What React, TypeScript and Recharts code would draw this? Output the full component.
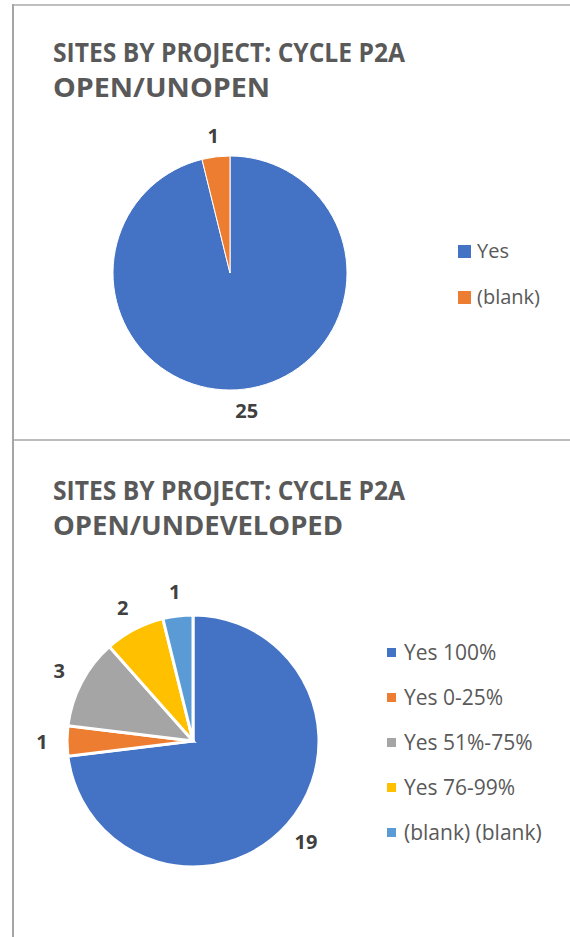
import React from 'react';
import { PieChart, Pie, Cell, Legend } from 'recharts';

const openCategories = ['Yes', '(blank)'];
const openValues = [25, 1];
const openColors = ['#4472C4', '#ED7D31'];

const devCategories = ['Yes 100%', 'Yes 0-25%', 'Yes 51%-75%', 'Yes 76-99%', '(blank) (blank)'];
const devValues = [19, 1, 3, 2, 1];
const devColors = ['#4472C4', '#ED7D31', '#A5A5A5', '#FFC000', '#5B9BD5'];

const titleTop = ['SITES BY PROJECT: CYCLE P2A', 'OPEN/UNOPEN'];
const titleBottom = ['SITES BY PROJECT: CYCLE P2A', 'OPEN/UNDEVELOPED'];

const FONT = '"Open Sans", sans-serif';
const RAD = Math.PI / 180;
const NO_MARGIN = { top: 0, right: 0, bottom: 0, left: 0 };

const openData = openCategories.map((name, i) => ({ name, value: openValues[i] }));
const devData = devCategories.map((name, i) => ({ name, value: devValues[i] }));

// value labels sit just outside the rim, like Excel's outside-end labels
const makeLabel = (gap: number) => (props: any) => {
  const { cx, cy, midAngle, outerRadius, value } = props;
  const r = outerRadius + gap;
  const x = cx + r * Math.cos(-midAngle * RAD);
  const y = cy + r * Math.sin(-midAngle * RAD);
  return (
    <text x={x} y={y} textAnchor="middle" dominantBaseline="central"
      fontFamily={FONT} fontWeight={700} fontSize={20} fill="#404040">
      {value}
    </text>
  );
};

// legend keeps the series order (recharts would sort it by name)
const makeLegend = (names: string[], colors: string[], box: number, gap: number, fontSize: number) => () => (
  <div>
    {names.map((n, i) => (
      <div key={n} style={{ display: 'flex', alignItems: 'center', height: gap }}>
        <span style={{ width: box, height: box, background: colors[i], display: 'inline-block', marginRight: box > 10 ? 6 : 8 }} />
        <span style={{ fontFamily: FONT, fontSize, color: '#595959', lineHeight: 1 }}>{n}</span>
      </div>
    ))}
  </div>
);

function Title({ lines, y, widths }: { lines: string[]; y: number; widths: number[] }) {
  return (
    <>
      {lines.map((t, i) => (
        <text key={i} x={53} y={y + i * 35} fontFamily={FONT} fontWeight={700} fontSize={27}
          fill="#595959" textLength={widths[i]} lengthAdjust="spacingAndGlyphs">
          {t}
        </text>
      ))}
    </>
  );
}

export default function App() {
  return (
    <div style={{ position: 'absolute', left: 0, top: 0, width: 570, height: 937, background: '#fff' }}>
      <div style={{ position: 'absolute', left: 0, top: 0 }}>
        <PieChart width={570} height={440} margin={NO_MARGIN}>
          <Pie data={openData} dataKey="value" nameKey="name" cx={230} cy={273} outerRadius={117}
            startAngle={90} endAngle={-270} stroke="#fff" strokeWidth={1}
            label={makeLabel(22)} labelLine={false} isAnimationActive={false}>
            {openData.map((_, i) => <Cell key={i} fill={openColors[i]} />)}
          </Pie>
          <Legend layout="vertical" content={makeLegend(openCategories, openColors, 13, 46, 20)}
            wrapperStyle={{ left: 458, top: 228, width: 110, right: 'auto', bottom: 'auto' }} />
        </PieChart>
      </div>
      <div style={{ position: 'absolute', left: 0, top: 440 }}>
        <PieChart width={570} height={497} margin={NO_MARGIN}>
          <Pie data={devData} dataKey="value" nameKey="name" cx={193} cy={301} outerRadius={126}
            startAngle={90} endAngle={-270} stroke="#fff" strokeWidth={3}
            label={makeLabel(25)} labelLine={false} isAnimationActive={false}>
            {devData.map((_, i) => <Cell key={i} fill={devColors[i]} />)}
          </Pie>
          <Legend layout="vertical" content={makeLegend(devCategories, devColors, 9, 45, 21)}
            wrapperStyle={{ left: 387, top: 190, width: 180, right: 'auto', bottom: 'auto' }} />
        </PieChart>
      </div>
      <svg width={570} height={937} style={{ position: 'absolute', left: 0, top: 0, pointerEvents: 'none' }}>
        <line x1={12} y1={5} x2={570} y2={5} stroke="#BFBFBF" strokeWidth={2} />
        <line x1={13} y1={4} x2={13} y2={937} stroke="#A6A6A6" strokeWidth={2} />
        <line x1={12} y1={440} x2={570} y2={440} stroke="#A6A6A6" strokeWidth={1.5} />
        <Title lines={titleTop} y={62} widths={[352, 217]} />
        <Title lines={titleBottom} y={500} widths={[352, 290]} />
      </svg>
    </div>
  );
}
